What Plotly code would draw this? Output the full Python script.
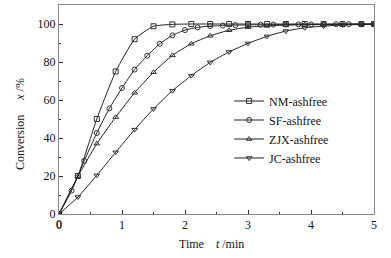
import plotly.graph_objects as go

t_03 = [0, 0.3, 0.6, 0.9, 1.2, 1.5, 1.8, 2.1, 2.4, 2.7, 3.0, 3.3, 3.6, 3.9, 4.2, 4.5, 4.8, 5.0]
t_02 = [0, 0.2, 0.4, 0.6, 0.8, 1.0, 1.2, 1.4, 1.6, 1.8, 2.0, 2.2, 2.4, 2.6, 2.8, 3.0,
        3.2, 3.4, 3.6, 3.8, 4.0, 4.2, 4.4, 4.6, 4.8, 5.0]

nm = [0, 20, 50, 75, 92, 98.8, 99.8, 100, 100, 100, 100, 100, 100, 100, 100, 100, 100, 100]
sf = [0, 12.3, 28, 42.6, 55.6, 66.3, 76, 83.3, 89.6, 94, 96.8, 98.2, 98.9, 99.2, 99.4, 99.5,
      99.6, 99.7, 99.7, 99.8, 99.8, 99.8, 99.9, 99.9, 99.9, 100]
zjx = [0, 19.8, 37, 51, 63.8, 74.6, 83.5, 89.6, 93.8, 96.7, 98.3, 99.0, 99.4, 99.6, 99.7, 99.8, 99.9, 100]
jc = [0, 8.9, 20.4, 32.5, 44.4, 55.3, 64.9, 72.8, 79.8, 85.3, 89.8, 93.5, 96.3, 98.0, 98.9, 99.5, 99.7, 99.8]

x_origin_label = "0"

series = [
    ("NM-ashfree", t_03, nm, "square-open"),
    ("SF-ashfree", t_02, sf, "circle-open"),
    ("ZJX-ashfree", t_03, zjx, "triangle-up-open"),
    ("JC-ashfree", t_03, jc, "triangle-down-open"),
]

FONT = "Liberation Serif"
fig = go.Figure()
for name, tx, vy, sym in series:
    fig.add_trace(go.Scatter(
        x=tx, y=vy, name=name, mode="lines+markers",
        line=dict(color="#222222", width=1, shape="spline", smoothing=0.5),
        marker=dict(symbol=sym, size=5, color="#333333", line=dict(width=1)),
    ))

axis_common = dict(
    showgrid=False, zeroline=False, showline=True, linecolor="#888888", linewidth=1,
    mirror=True, ticks="inside", ticklen=4, tickcolor="#333333",
    tickfont=dict(family=FONT, size=12, color="#111111"),
    minor=dict(ticks="inside", ticklen=2, tickcolor="#333333"),
)
fig.update_xaxes(range=[0, 5], dtick=1, minor_dtick=0.5, **axis_common)
fig.update_yaxes(range=[0, 110], dtick=20, minor_dtick=10, **axis_common)

fig.update_layout(
    width=391, height=258,
    margin=dict(l=59, r=17, t=5, b=44),
    plot_bgcolor="white", paper_bgcolor="white",
    showlegend=True,
    legend=dict(x=0.54, y=0.61, xanchor="left", yanchor="top",
                font=dict(family=FONT, size=12, color="#111111"),
                bgcolor="rgba(0,0,0,0)", tracegroupgap=0, itemwidth=30),
    annotations=[
        dict(text="Time &nbsp;&nbsp; <i>t</i> /min", xref="paper", yref="paper",
             x=0.485, y=-0.1435, xanchor="center", yanchor="middle", showarrow=False,
             font=dict(family=FONT, size=12, color="#111111")),
        dict(text="Conversion &nbsp;&nbsp;&nbsp; <i>x</i> /%", xref="paper", yref="paper",
             x=-0.124, y=0.43, xanchor="center", yanchor="middle", textangle=-90,
             showarrow=False, font=dict(family=FONT, size=12, color="#111111")),
        dict(text=x_origin_label, xref="x", yref="paper", x=0, y=0,
             xanchor="center", yanchor="top", yshift=-1, showarrow=False,
             font=dict(family=FONT, size=12, color="#111111")),
    ],
)
fig.write_html("out.html", config={"displayModeBar": False},
               post_script="document.body.style.margin='0';")
